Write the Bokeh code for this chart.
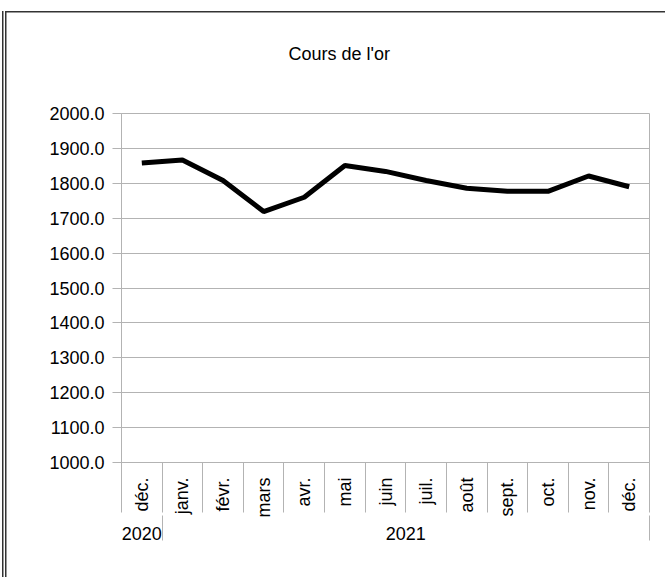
import numpy as np
from bokeh.plotting import figure
from bokeh.models import Range1d, FixedTicker, PrintfTickFormatter, LinearAxis
from bokeh.embed import file_html
from bokeh.resources import INLINE

# ---- data ----
title_text = "Cours de l'or"
months = ["déc.", "janv.", "févr.", "mars", "avr.", "mai", "juin",
          "juil.", "août", "sept.", "oct.", "nov.", "déc."]
years = ["2020"] + ["2021"] * 12
prices = [1858, 1867, 1808, 1719, 1760, 1851, 1834, 1808, 1786, 1777, 1777, 1821, 1790]
y_ticks = [1000, 1100, 1200, 1300, 1400, 1500, 1600, 1700, 1800, 1900, 2000]

# ---- layout constants (page pixels) ----
W, H = 665, 577
FL, FR, FT, FB = 121, 649, 113, 462
FONT = "Liberation Sans"
FS = "18px"
GREY = "#b3b3b3"
DARK = "#333333"

n = len(months)
centers = [i + 0.5 for i in range(n)]
bounds = list(range(n + 1))
year_bounds = [i for i in range(1, n) if years[i] != years[i - 1]] + [n]
year_names, year_centers = [], []
start = 0
for b in year_bounds:
    year_names.append(years[start])
    year_centers.append((start + b) / 2)
    start = b

frame_bg = ("linear-gradient({c},{c}) 2px 11px / 1.5px 566px no-repeat, "
            "linear-gradient({c},{c}) 5px 11px / 1.5px 566px no-repeat, "
            "linear-gradient({c},{c}) 5px 11px / 660px 1.5px no-repeat, white").format(c=DARK)

p = figure(width=W, height=H, x_range=Range1d(0, n), y_range=Range1d(y_ticks[0], y_ticks[-1]),
           output_backend="svg", toolbar_location=None, x_axis_type=None,
           min_border_left=FL, min_border_right=W - FR, min_border_top=FT,
           min_border_bottom=H - FB,
           styles={"margin": "0px", "background": frame_bg})
p.outline_line_color = GREY
p.background_fill_color = "white"
p.border_fill_alpha = 0

# spacer between frame and title (invisible axis: one invisible tick, no label)
spacer = LinearAxis(ticker=FixedTicker(ticks=[0]), major_tick_out=45, major_tick_in=0,
                    minor_tick_out=0, minor_tick_in=0, axis_line_color=None,
                    major_tick_line_color=None, minor_tick_line_color=None,
                    major_label_overrides={0: ""}, major_label_standoff=0,
                    major_label_text_font_size="0px")
p.add_layout(spacer, "above")

# title
p.title.text = title_text
p.title.align = "left"
p.title.offset = 288 - FL
p.title.standoff = 10
p.title.vertical_align = "bottom"
p.title.text_font = FONT
p.title.text_font_size = FS
p.title.text_font_style = "normal"
p.title.text_color = "black"

# y axis
ya = p.yaxis[0]
ya.ticker = FixedTicker(ticks=y_ticks)
ya.formatter = PrintfTickFormatter(format="%.1f")
ya.major_tick_out = 9
ya.major_tick_in = 0
ya.minor_tick_out = 0
ya.minor_tick_in = 0
ya.minor_tick_line_color = None
ya.major_tick_line_color = GREY
ya.axis_line_color = GREY
ya.major_label_standoff = 8
ya.major_label_text_font = FONT
ya.major_label_text_font_size = FS
ya.major_label_text_color = "black"
p.ygrid.ticker = FixedTicker(ticks=y_ticks)
p.ygrid.grid_line_color = GREY

# x axis 1: month labels + category separators
xa = LinearAxis(ticker=FixedTicker(ticks=centers, minor_ticks=bounds),
                major_tick_out=0, major_tick_in=0, minor_tick_out=50, minor_tick_in=0,
                major_tick_line_color=None, minor_tick_line_color=GREY,
                axis_line_color=GREY,
                major_label_overrides={c: m for c, m in zip(centers, months)},
                major_label_orientation=np.pi / 2, major_label_standoff=-35,
                major_label_text_font=FONT, major_label_text_font_size=FS,
                major_label_text_color="black")
p.add_layout(xa, "below")

# x axis 2: year labels + year separators
xb = LinearAxis(ticker=FixedTicker(ticks=year_centers, minor_ticks=year_bounds),
                major_tick_out=0, major_tick_in=0, minor_tick_out=20, minor_tick_in=5,
                major_tick_line_color=None, minor_tick_line_color=GREY,
                axis_line_color=None, axis_line_alpha=0, axis_line_width=0,
                major_label_overrides={c: y for c, y in zip(year_centers, year_names)},
                major_label_standoff=-14,
                major_label_text_font=FONT, major_label_text_font_size=FS,
                major_label_text_color="black")
p.add_layout(xb, "below")

# series line
p.line(centers, prices, line_width=5, line_color="black")

open("out.html", "w").write(file_html(p, INLINE))
